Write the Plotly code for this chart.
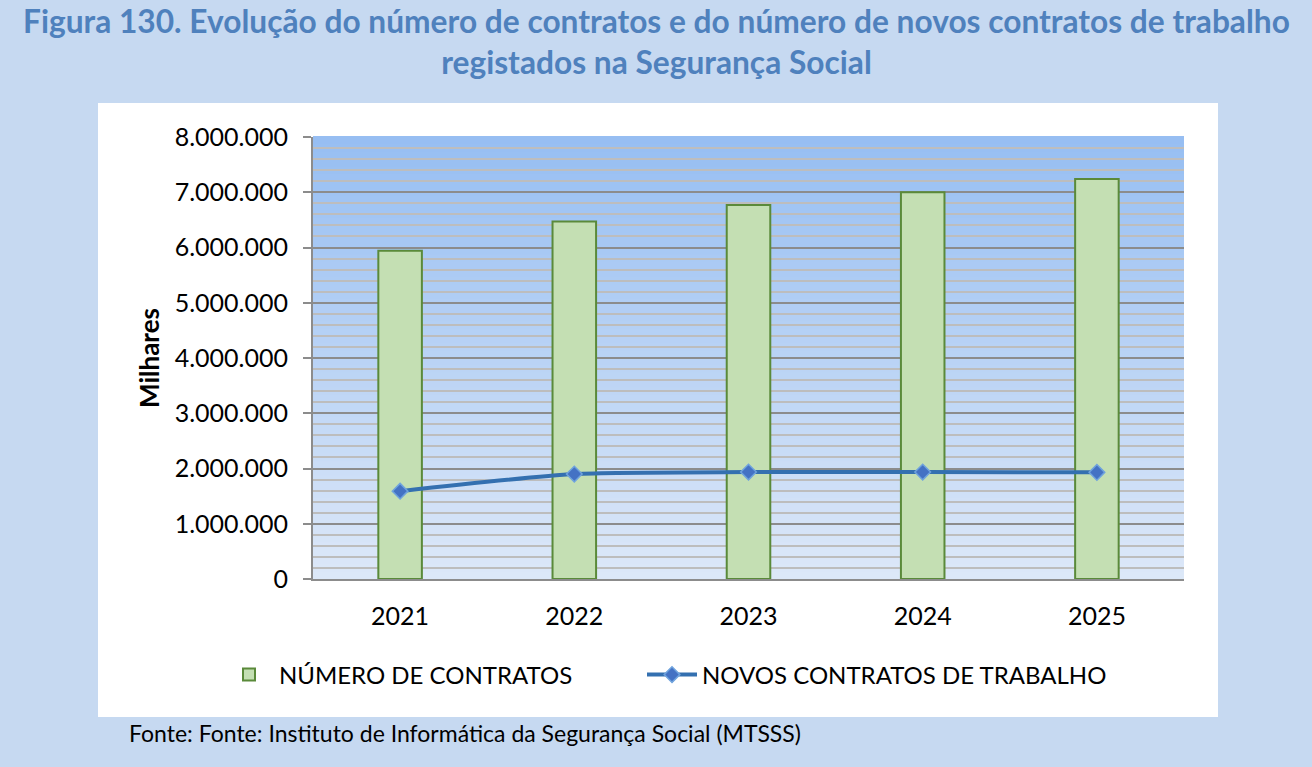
import plotly.graph_objects as go

years = ["2021", "2022", "2023", "2024", "2025"]
numero_contratos = [5940000, 6470000, 6770000, 7000000, 7240000]
novos_contratos = [1590000, 1900000, 1935000, 1935000, 1930000]

y_ticks = [0, 1000000, 2000000, 3000000, 4000000, 5000000, 6000000, 7000000, 8000000]

title_text = ("Figura 130. Evolução do número de contratos e do número de novos contratos de trabalho"
              "<br>registados na Segurança Social")
source_text = "Fonte: Fonte: Instituto de Informática da Segurança Social (MTSSS)"

W, H = 1312, 767
FONT = "Lato"
BG = "#C6D9F1"

def px_x(p):
    return p / W

def px_y(p):
    return 1 - p / H

fig = go.Figure()

fig.add_trace(go.Bar(
    x=years, y=numero_contratos, name="NÚMERO DE CONTRATOS",
    width=0.25, legend="legend",
    marker=dict(color="#C4DFB3", line=dict(color="#5A8A3A", width=2)),
))
fig.add_trace(go.Scatter(
    x=years, y=novos_contratos, name="NOVOS CONTRATOS DE TRABALHO",
    mode="lines+markers", legend="legend2",
    line=dict(color="#3470B0", width=4, shape="spline", smoothing=0.6),
    marker=dict(symbol="diamond", size=12, color="#4472C4",
                line=dict(color="#6FA3DD", width=1.5)),
))

shapes = []
# white chart box
shapes.append(dict(type="rect", xref="paper", yref="paper",
                   x0=px_x(98), x1=px_x(1218), y0=px_y(717), y1=px_y(103),
                   fillcolor="white", line=dict(width=0), layer="below"))
# gradient plot background
top = (150, 190, 242)
bot = (221, 232, 248)
N = 60
for i in range(N):
    t = (i + 0.5) / N
    c = tuple(int(round(bot[k] + (top[k] - bot[k]) * t)) for k in range(3))
    shapes.append(dict(type="rect", xref="x domain", yref="y domain",
                       x0=0, x1=1, y0=i / N, y1=(i + 1) / N + 0.002,
                       fillcolor="rgb(%d,%d,%d)" % c, line=dict(width=0),
                       layer="below"))

legend_common = dict(orientation="h", xanchor="left", y=px_y(675), yanchor="middle",
                     font=dict(size=24, family=FONT), bgcolor="rgba(0,0,0,0)",
                     itemwidth=50)

fig.update_layout(
    width=W, height=H,
    paper_bgcolor=BG,
    plot_bgcolor="rgba(0,0,0,0)",
    margin=dict(l=0, r=0, t=0, b=0, autoexpand=False),
    separators=",.",
    font=dict(family=FONT, color="black", size=22),
    shapes=shapes,
    showlegend=True,
    legend=dict(x=px_x(219), **legend_common),
    legend2=dict(x=px_x(642), **legend_common),
    bargap=0.75,
    xaxis=dict(domain=[px_x(313), px_x(1184)], type="category",
               range=[-0.5, 4.5],
               showgrid=False, showline=True, linecolor="#8C8C8C", linewidth=2,
               ticks="", tickfont=dict(size=25, family=FONT), ticklabelstandoff=14,
               fixedrange=True),
    yaxis=dict(domain=[px_y(579), px_y(137)], range=[0, 8000000],
               tickvals=y_ticks, tickformat=",d",
               showgrid=True, gridcolor="#8C8C8C", gridwidth=2,
               minor=dict(dtick=200000, showgrid=True, gridcolor="#BDBDBD", gridwidth=2, ticks=""),
               showline=True, linecolor="#8C8C8C", linewidth=2,
               ticks="outside", ticklen=8, tickcolor="#8C8C8C", tickwidth=2,
               tickfont=dict(size=25, family=FONT), ticklabelstandoff=10,
               zeroline=False,
               title=dict(text="<b>Milhares</b>", font=dict(size=26, family=FONT), standoff=8),
               fixedrange=True),
)

fig.add_annotation(text="<b>" + title_text + "</b>", xref="paper", yref="paper",
                   x=0.5, y=px_y(0), xanchor="center", yanchor="top", showarrow=False,
                   font=dict(size=31.7, color="#4F81BD", family=FONT), align="center")
fig.add_annotation(text=source_text, xref="paper", yref="paper",
                   x=px_x(127), y=px_y(733), xanchor="left", yanchor="middle", showarrow=False,
                   font=dict(size=23, color="black", family=FONT))

fig.write_html(
    "out.html",
    config={"displayModeBar": False},
    post_script="document.body.style.margin='0';document.body.style.overflow='hidden';"
                "document.body.style.background='" + BG + "';",
)
